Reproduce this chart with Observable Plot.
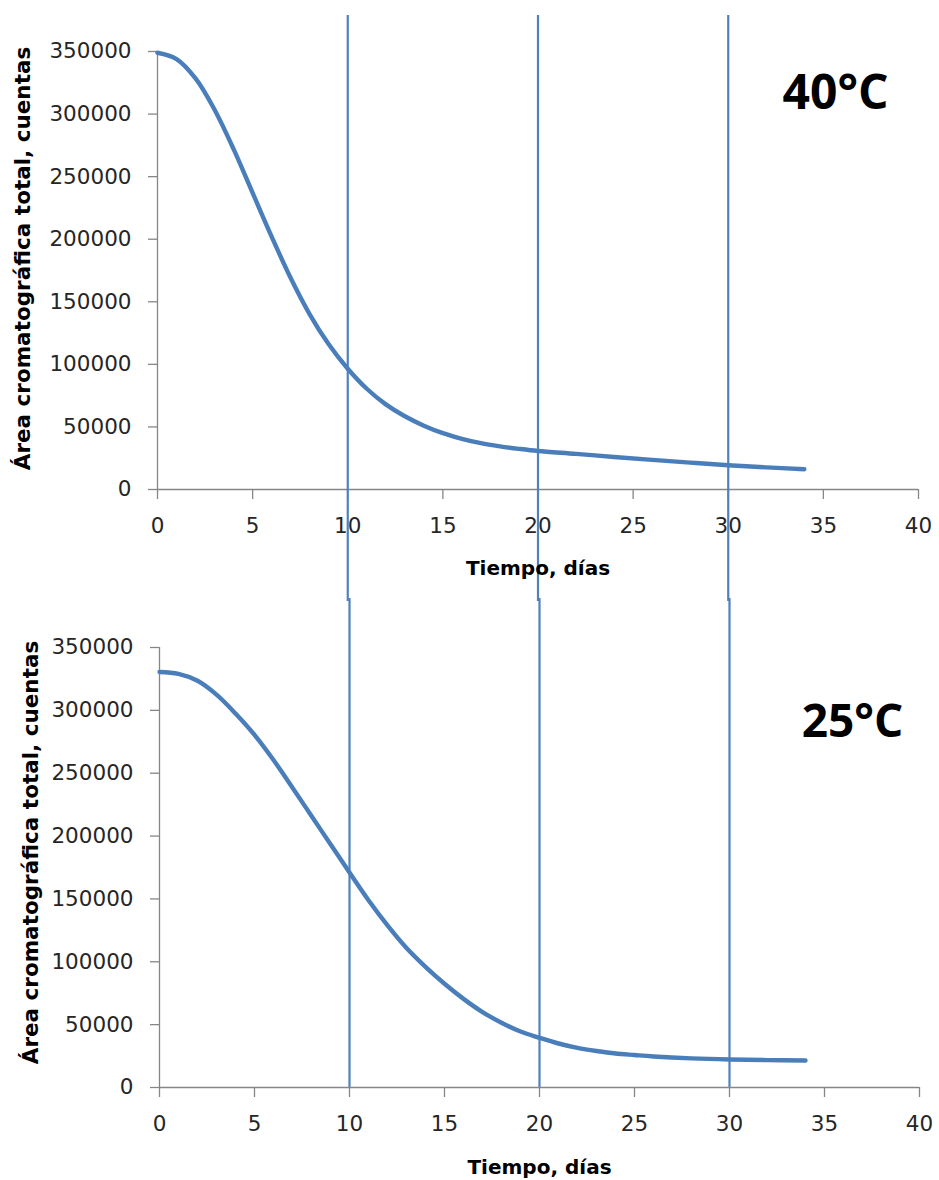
<!DOCTYPE html>
<html>
<head>
<meta charset="utf-8">
<script src="https://cdn.jsdelivr.net/npm/d3@7"></script>
<script src="https://cdn.jsdelivr.net/npm/@observablehq/plot@0.6"></script>
<style>
  html, body { margin: 0; padding: 0; background: #ffffff; }
  #chart { width: 939px; height: 1180px; position: relative; }
  #chart svg { display: block; }
</style>
</head>
<body>
<div id="chart"></div>
<script>
// ---- data ----
const days40 = [0,1,2,3,4,5,6,7,8,9,10,11,12,13,14,15,16,17,18,19,20,22,24,26,28,30,32,34];
const area40 = [349000,344000,328500,303500,272000,237000,202000,169000,140000,116000,96500,80500,68000,58500,51000,45000,40500,37000,34500,32500,30800,28500,26000,23700,21500,19400,17700,16200];

const days25 = [0,1,2,3,4,5,6,7,8,9,10,11,12,13,14,15,16,17,18,19,20,21,22,23,24,25,26,28,30,32,34];
const area25 = [330500,329000,323500,312500,297500,280500,260500,238500,216000,193500,171000,149000,129000,111000,96000,82500,70500,60000,51500,44500,39500,35000,31500,29000,27000,25800,24700,23200,22300,21800,21500];

const xTicks = [0,5,10,15,20,25,30,35,40];
const yTicks = [0,50000,100000,150000,200000,250000,300000,350000];
const markerDays = [10,20,30];
const panelLabels = ["40°C","25°C"];
const xTitle = "Tiempo, días";
const yTitle = "Área cromatográfica total, cuentas";

const lineColor = "#4a7ebb";
const ruleColor = "#4f81bd";
const axisGray = "#868686";
const textColor = "#262626";

function panel(o) {
  const data = o.days.map((d, i) => ({day: d, area: o.area[i]}));
  return Plot.plot({
    width: 939,
    height: o.height,
    marginTop: o.mt,
    marginBottom: o.mb,
    marginLeft: o.ml,
    marginRight: o.mr,
    style: {fontFamily: "DejaVu Sans", fontSize: "21.5px", background: "#ffffff", overflow: "visible"},
    x: {domain: [0, 40]},
    y: {domain: [0, 350000]},
    marks: [
      Plot.ruleY([0], {stroke: axisGray, strokeWidth: 1.3}),
      Plot.ruleX([0], {y1: 0, y2: 350000, stroke: axisGray, strokeWidth: 1.3}),
      Plot.axisX({ticks: xTicks, tickSize: 10, tickPadding: 18, tickFormat: d => String(d), label: null,
                  stroke: axisGray, fill: textColor, strokeWidth: 1.3}),
      Plot.axisY({ticks: yTicks, tickSize: 9, tickPadding: 17, tickFormat: d => String(d), label: null,
                  stroke: axisGray, fill: textColor, strokeWidth: 1.3}),
      Plot.ruleX(markerDays, {y1: o.ruleY1, y2: o.ruleY2, stroke: ruleColor, strokeWidth: 2.2}),
      Plot.line(data, {x: "day", y: "area", stroke: lineColor, strokeWidth: 4.4, curve: "catmull-rom"}),
      Plot.text([xTitle], {text: d => d, frameAnchor: "bottom", dy: o.xTitleDy, textAnchor: "middle",
                           lineAnchor: "middle", fontWeight: "bold", fontSize: 20, fill: "#000"}),
      Plot.text([yTitle], {text: d => d, frameAnchor: "left", rotate: -90, dx: o.yTitleDx, dy: o.yTitleDy,
                           textAnchor: "middle", lineAnchor: "middle",
                           fontWeight: "bold", fontSize: 21.5, fill: "#000"}),
      Plot.text([o.label], {text: d => d, frameAnchor: "top-right", dx: o.tDx, dy: o.tDy, textAnchor: "middle",
                            lineAnchor: "top", fontWeight: "bold", fontSize: o.tSize, fontFamily: "Open Sans", fill: "#000"})
    ]
  });
}

const topPanel = panel({
  days: days40, area: area40, label: panelLabels[0],
  height: 600, mt: 51, mb: 111, ml: 157, mr: 21,
  ruleY1: -89500, ruleY2: 378800,
  xTitleDy: 79, yTitleDx: -134, yTitleDy: -12,
  tDx: -83, tDy: 23, tSize: 48
});
const bottomPanel = panel({
  days: days25, area: area25, label: panelLabels[1],
  height: 580, mt: 47, mb: 93, ml: 159, mr: 20,
  ruleY1: 0, ruleY2: 389000,
  xTitleDy: 80, yTitleDx: -128, yTitleDy: -15,
  tDx: -67, tDy: 57, tSize: 46
});
const chartDiv = document.getElementById("chart");
chartDiv.appendChild(topPanel);
chartDiv.appendChild(bottomPanel);
</script>
</body>
</html>
